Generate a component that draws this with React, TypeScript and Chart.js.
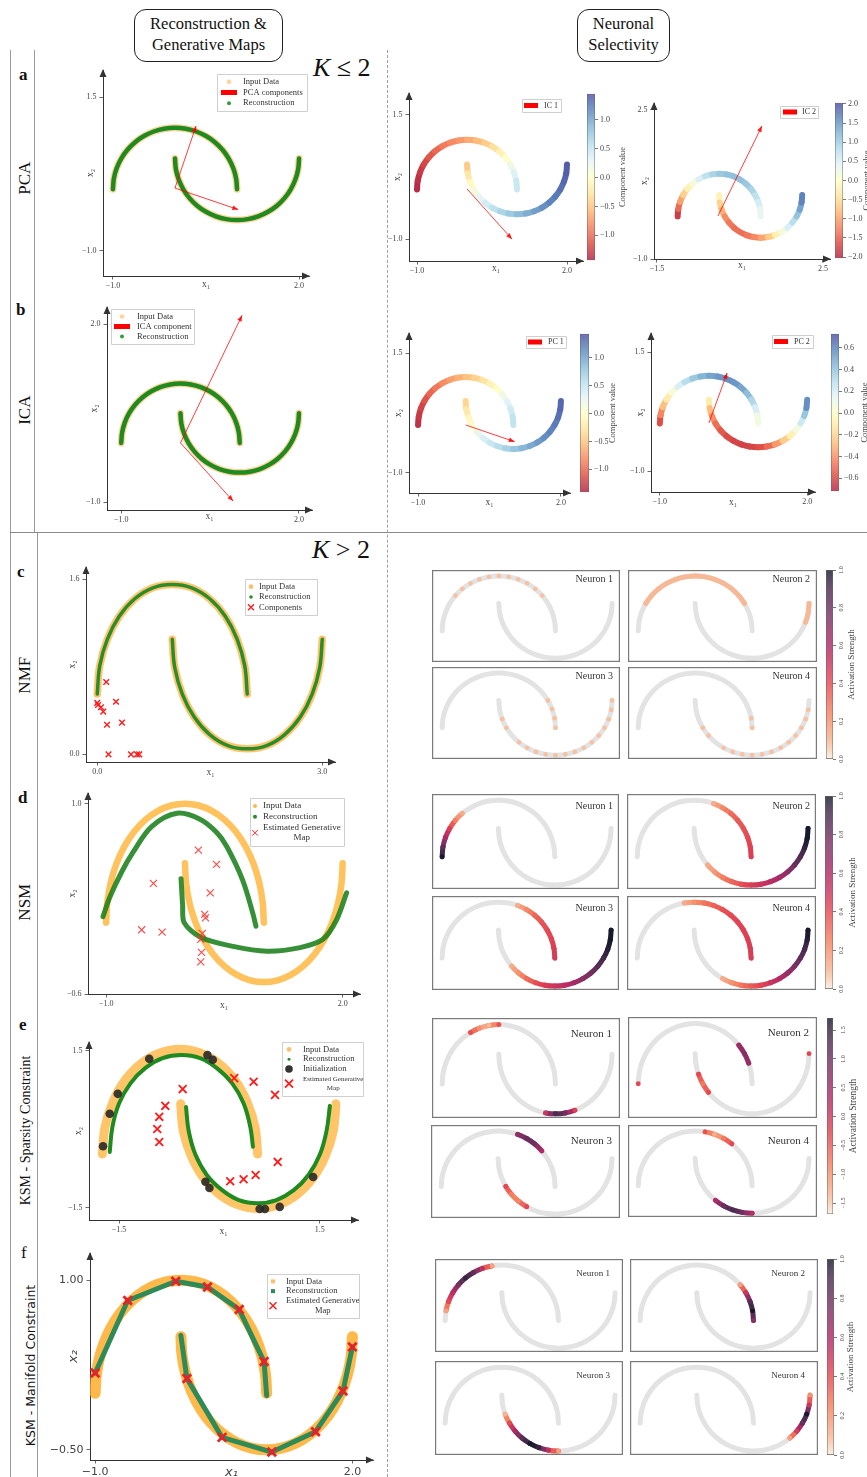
import React, { useEffect, useRef } from "react";
import { Chart, registerables } from "chart.js";

Chart.register(...registerables);

const SERIF = '"Liberation Serif", "Times New Roman", serif';
const SANS = '"DejaVu Sans", sans-serif';
const _ = null;

type P = [number, number];
type V = (number | null)[];

// ================= DATA =================
// two-moons shape (read off panels a / b), left end -> right end
const MOON_UPPER: P[] = [[-1, 0], [-0.985, 0.174], [-0.94, 0.342], [-0.866, 0.5], [-0.766, 0.643], [-0.643, 0.766], [-0.5, 0.866], [-0.342, 0.94], [-0.174, 0.985], [0, 1], [0.174, 0.985], [0.342, 0.94], [0.5, 0.866], [0.643, 0.766], [0.766, 0.643], [0.866, 0.5], [0.94, 0.342], [0.985, 0.174], [1, 0]];
const MOON_LOWER: P[] = [[0, 0.5], [0.015, 0.326], [0.06, 0.158], [0.134, 0], [0.234, -0.143], [0.357, -0.266], [0.5, -0.366], [0.658, -0.44], [0.826, -0.485], [1, -0.5], [1.174, -0.485], [1.342, -0.44], [1.5, -0.366], [1.643, -0.266], [1.766, -0.143], [1.866, 0], [1.94, 0.158], [1.985, 0.326], [2, 0.5]];

// panel a / b arrows
const PCA_ARROW_1: P[] = [[0, 0.02], [0.34, 1.03]];
const PCA_ARROW_2: P[] = [[0, 0.02], [1.02, -0.33]];
const ICA_ARROW_1: P[] = [[0, 0], [1.04, 2.15]];
const ICA_ARROW_2: P[] = [[0, 0], [0.89, -0.98]];
const IC1_ARROW: P[] = [[0, 0.01], [0.9, -1.0]];
const IC2_ARROW: P[] = [[-0.03, 0.01], [1.03, 2.12]];
const PC1_ARROW: P[] = [[0, 0], [1.03, -0.35]];
const PC2_ARROW: P[] = [[0, 0.01], [0.37, 1.06]];

// component values along the moons
const IC1_UPPER: V = [-1.42, -1.38, -1.32, -1.25, -1.15, -1.05, -0.95, -0.85, -0.78, -0.7, -0.6, -0.5, -0.38, -0.22, -0.05, 0.12, 0.28, 0.42, 0.52];
const IC1_LOWER: V = [-0.55, -0.35, -0.15, 0.05, 0.2, 0.35, 0.48, 0.6, 0.7, 0.8, 0.9, 1.0, 1.08, 1.16, 1.22, 1.28, 1.33, 1.38, 1.42];
const IC2_UPPER: V = [-2.0, -1.6, -1.2, -0.8, -0.4, 0.0, 0.35, 0.65, 0.85, 1.0, 1.1, 1.15, 1.15, 1.1, 1.0, 0.85, 0.65, 0.45, 0.25];
const IC2_LOWER: V = [0.0, -0.4, -0.75, -1.05, -1.25, -1.35, -1.4, -1.35, -1.25, -1.1, -0.85, -0.45, 0.0, 0.35, 0.65, 0.95, 1.25, 1.55, 1.8];
const PC1_UPPER: V = [-1.35, -1.3, -1.25, -1.15, -1.05, -0.95, -0.85, -0.75, -0.65, -0.55, -0.45, -0.35, -0.2, -0.05, 0.1, 0.25, 0.38, 0.48, 0.55];
const PC1_LOWER: V = [-0.45, -0.3, -0.15, 0.0, 0.15, 0.3, 0.42, 0.52, 0.62, 0.72, 0.82, 0.92, 1.0, 1.08, 1.15, 1.2, 1.25, 1.3, 1.35];
const PC2_UPPER: V = [-0.65, -0.5, -0.35, -0.18, -0.02, 0.12, 0.24, 0.34, 0.42, 0.48, 0.53, 0.56, 0.56, 0.53, 0.47, 0.38, 0.26, 0.13, 0.02];
const PC2_LOWER: V = [0.0, -0.2, -0.35, -0.45, -0.52, -0.57, -0.6, -0.62, -0.62, -0.6, -0.55, -0.45, -0.3, -0.15, 0.0, 0.15, 0.3, 0.48, 0.65];

// panel c (NMF)
const NMF_UPPER: P[] = [[0, 0.55], [0.034, 0.81], [0.134, 1.05], [0.293, 1.26], [0.5, 1.42], [0.741, 1.52], [1, 1.55], [1.259, 1.52], [1.5, 1.42], [1.707, 1.26], [1.866, 1.05], [1.966, 0.81], [2, 0.55]];
const NMF_LOWER: P[] = [[1, 1.05], [1.034, 0.79], [1.134, 0.55], [1.293, 0.34], [1.5, 0.18], [1.741, 0.08], [2, 0.05], [2.259, 0.08], [2.5, 0.18], [2.707, 0.34], [2.866, 0.55], [2.966, 0.79], [3, 1.05]];
const NMF_COMPONENTS: P[] = [[0.12, 0.66], [0.0, 0.47], [0.01, 0.45], [0.05, 0.43], [0.08, 0.39], [0.25, 0.48], [0.13, 0.27], [0.33, 0.29], [0.15, 0.0], [0.45, 0.0], [0.53, 0.0], [0.56, 0.0]];

// panel d (NSM)
const NSM_RECON_UPPER: P[] = [[-1.04, 0.05], [-0.95, 0.22], [-0.8, 0.43], [-0.66, 0.59], [-0.42, 0.81], [-0.1, 0.92], [0.19, 0.87], [0.4, 0.76], [0.53, 0.64], [0.73, 0.36], [0.86, 0.08], [0.9, -0.03]];
const NSM_RECON_LOWER: P[] = [[-0.05, 0.37], [-0.03, 0.15], [-0.01, 0.0], [0.19, -0.12], [0.61, -0.2], [1.04, -0.24], [1.46, -0.21], [1.75, -0.14], [1.92, 0.02], [2.05, 0.25]];
const NSM_MAP: P[] = [[0.17, 0.61], [0.4, 0.49], [-0.4, 0.33], [0.32, 0.25], [0.25, 0.07], [0.26, 0.04], [-0.55, -0.06], [-0.29, -0.08], [0.22, -0.09], [0.2, -0.14], [0.21, -0.25], [0.2, -0.33]];

// panel e (KSM - sparsity)
const KS_INPUT_UPPER: P[] = [[-1.75, -0.47], [-1.71, 0.05], [-1.59, 0.53], [-1.41, 0.94], [-1.17, 1.26], [-0.89, 1.46], [-0.59, 1.53], [-0.29, 1.46], [-0.01, 1.26], [0.23, 0.94], [0.41, 0.53], [0.53, 0.05], [0.57, -0.47]];
const KS_INPUT_LOWER: P[] = [[-0.58, 0.49], [-0.54, -0.03], [-0.42, -0.51], [-0.24, -0.92], [0, -1.24], [0.28, -1.44], [0.58, -1.51], [0.88, -1.44], [1.16, -1.24], [1.4, -0.92], [1.58, -0.51], [1.7, -0.03], [1.74, 0.49]];
const KS_RECON_UPPER: P[] = [[-1.64, -0.43], [-1.6, 0.05], [-1.5, 0.5], [-1.33, 0.88], [-1.11, 1.17], [-0.85, 1.36], [-0.57, 1.42], [-0.29, 1.36], [-0.04, 1.17], [0.19, 0.88], [0.36, 0.5], [0.46, 0.05], [0.5, -0.33]];
const KS_RECON_LOWER: P[] = [[-0.5, 0.43], [-0.46, -0.03], [-0.36, -0.48], [-0.19, -0.87], [0.04, -1.16], [0.29, -1.35], [0.57, -1.41], [0.85, -1.35], [1.11, -1.16], [1.33, -0.87], [1.5, -0.48], [1.6, -0.03], [1.65, 0.45]];
const KS_INIT: P[] = [[-1.74, -0.32], [-1.64, 0.3], [-1.52, 0.68], [-1.05, 1.35], [-0.18, 1.42], [-0.1, 1.33], [-0.21, -1.0], [-0.15, -1.12], [0.6, -1.52], [0.68, -1.52], [0.9, -1.48], [1.4, -0.91]];
const KS_MAP: P[] = [[-0.55, 0.77], [-0.81, 0.45], [-0.9, 0.24], [-0.93, 0.01], [-0.9, -0.24], [0.22, 0.98], [0.51, 0.91], [0.83, 0.66], [0.87, -0.62], [0.54, -0.87], [0.36, -0.95], [0.16, -0.99]];

// panel f (KSM - manifold)
const KM_RECON_UPPER: P[] = [[-1.0, 0.18], [-0.62, 0.82], [-0.06, 0.99], [0.31, 0.94], [0.68, 0.74], [0.97, 0.28], [1.0, -0.02]];
const KM_RECON_LOWER: P[] = [[0.0, 0.51], [0.07, 0.13], [0.48, -0.39], [1.06, -0.52], [1.57, -0.34], [1.89, 0.02], [2.0, 0.41]];
const KM_MAP: P[] = [[-1.0, 0.18], [-0.62, 0.82], [-0.06, 0.99], [0.31, 0.94], [0.68, 0.74], [0.97, 0.28], [0.07, 0.13], [0.48, -0.39], [1.06, -0.52], [1.57, -0.34], [1.89, 0.02], [2.0, 0.41]];

// neuron activations along the moons (null = inactive)
const NMF_N1_UPPER: V = [_, _, _, _, .07, .07, .07, .07, .07, .07, .07, .07, .07, .07, .07, _, _, _, _];
const NMF_N1_LOWER: V = [_, _, _, _, _, _, _, _, _, _, _, _, _, _, _, _, _, _, _];
const NMF_N2_UPPER: V = [_, _, _, .09, .09, .09, .09, .09, .09, .09, .09, .09, .09, .09, .09, .09, _, _, _];
const NMF_N2_LOWER: V = [_, _, _, _, _, _, _, _, _, _, _, _, _, _, _, _, .09, .09, .09];
const NMF_N3_UPPER: V = [_, _, _, _, _, _, _, _, _, _, _, _, _, _, _, .07, .07, .07, .07];
const NMF_N3_LOWER: V = [_, _, .07, .07, _, .07, .07, .07, .07, .07, .07, .07, .07, .07, .07, .07, .07, .07, .07];
const NMF_N4_UPPER: V = [_, _, _, _, _, _, _, _, _, _, _, _, _, _, _, _, _, .07, .07];
const NMF_N4_LOWER: V = [_, _, _, .07, .07, _, .07, .07, .07, .07, .07, .07, .07, .07, .07, .07, .07, .07, _];

const NSM_N1_UPPER: V = [1.0, .85, .6, .45, .25, .12, _, _, _, _, _, _, _, _, _, _, _, _, _];
const NSM_N1_LOWER: V = [_, _, _, _, _, _, _, _, _, _, _, _, _, _, _, _, _, _, _];
const NSM_N2_UPPER: V = [_, _, _, _, _, _, _, _, _, _, _, .12, .22, .3, .35, .38, .4, .43, .45];
const NSM_N2_LOWER: V = [_, _, _, _, .12, .18, .25, .32, .38, .45, .5, .55, .62, .7, .8, .88, .95, 1, 1];
const NSM_N3_UPPER: V = [_, _, _, _, _, _, _, _, _, _, _, .12, .22, .32, .37, .4, .42, .45, .47];
const NSM_N3_LOWER: V = [_, _, _, _, .12, .2, .3, .38, .45, .5, .55, .62, .7, .78, .85, .92, .97, 1, 1];
const NSM_N4_UPPER: V = [_, _, _, _, _, _, _, _, .12, .2, .28, .33, .38, .4, .42, .43, .44, .45, .46];
const NSM_N4_LOWER: V = [_, _, _, _, _, _, .12, .2, .28, .35, .42, .5, .58, .66, .75, .83, .9, .97, 1];

const KSS_N1_UPPER: V = [_, _, _, _, _, _, -.4, -1.0, -1.4, -.4, _, _, _, _, _, _, _, _, _];
const KSS_N1_LOWER: V = [_, _, _, _, _, _, _, _, 0, 1.4, 1.0, -.2, _, _, _, _, _, _, _];
const KSS_N2_UPPER: V = [-.3, _, _, _, _, _, _, _, _, _, _, _, _, _, .5, .8, .5, _, _];
const KSS_N2_LOWER: V = [_, _, -.3, -.8, -.3, _, _, _, _, _, _, _, _, _, _, _, _, _, -.3];
const KSS_N3_UPPER: V = [_, _, _, _, _, _, _, _, _, _, _, .6, 1.1, 1.0, .3, _, _, _, _];
const KSS_N3_LOWER: V = [_, _, _, -.3, -.8, -.9, -.3, _, _, _, _, _, _, _, _, _, _, _, _];
const KSS_N4_UPPER: V = [_, _, _, _, _, _, _, _, _, _, -.4, -1.3, -.8, -.3, _, _, _, _, _];
const KSS_N4_LOWER: V = [_, _, _, _, _, .3, 1.0, 1.4, 1.0, .2, _, _, _, _, _, _, _, _, _];

const KSM_N1_UPPER: V = [_, .15, .4, .55, .75, .95, .85, .55, .15, _, _, _, _, _, _, _, _, _, _];
const KSM_N1_LOWER: V = [_, _, _, _, _, _, _, _, _, _, _, _, _, _, _, _, _, _, _];
const KSM_N2_UPPER: V = [_, _, _, _, _, _, _, _, _, _, _, _, _, _, .15, .5, .85, 1, .7];
const KSM_N2_LOWER: V = [_, _, _, _, _, _, _, _, _, _, _, _, _, _, _, _, _, _, _];
const KSM_N3_UPPER: V = [_, _, _, _, _, _, _, _, _, _, _, _, _, _, _, _, _, _, _];
const KSM_N3_LOWER: V = [_, _, .1, .4, .6, .85, 1, .95, .55, .15, _, _, _, _, _, _, _, _, _];
const KSM_N4_UPPER: V = [_, _, _, _, _, _, _, _, _, _, _, _, _, _, _, _, _, _, _];
const KSM_N4_LOWER: V = [_, _, _, _, _, _, _, _, _, _, _, _, _, .15, .45, .8, 1, .5, .2];

// tick values
const A_L_XT = [-1, 2], A_L_YT = [-1, 1.5];
const A_R1_XT = [-1, 2], A_R1_YT = [-1, 1.5];
const A_R2_XT = [-1.5, 2.5], A_R2_YT = [-1, 2.5];
const B_L_XT = [-1, 2], B_L_YT = [-1, 2];
const B_R_XT = [-1, 2], B_R_YT = [-1, 1.5];
const C_L_XT = [0, 3], C_L_YT = [0, 1.6];
const D_L_XT = [-1, 2], D_L_YT = [-0.6, 1.0];
const E_L_XT = [-1.5, 1.5], E_L_YT = [-1.5, 1.5];
const F_L_XT = [-1, 2], F_L_YT = [-0.5, 1.0];
const CB_IC_TICKS = [-1, -0.5, 0, 0.5, 1];
const CB_IC2_TICKS = [-2, -1.5, -1, -0.5, 0, 0.5, 1, 1.5, 2];
const CB_PC2_TICKS = [-0.6, -0.4, -0.2, 0, 0.2, 0.4, 0.6];
const CB_ACT_TICKS = [0, 0.2, 0.4, 0.6, 0.8, 1.0];
const CB_KSS_TICKS = [-1.5, -1, -0.5, 0, 0.5, 1, 1.5];

// ================= STYLE HELPERS =================
function hexRgb(h: string) { return [1, 3, 5].map((i) => parseInt(h.slice(i, i + 2), 16)); }
function makeCmap(stops: [number, string][], alpha: number) {
  const s = stops.map(([p, c]) => ({ p, c: hexRgb(c) }));
  return (t: number) => {
    const u = Math.max(0, Math.min(1, t));
    let k = 0;
    while (k < s.length - 2 && u > s[k + 1].p) k++;
    const a = s[k], b = s[k + 1];
    const f = b.p > a.p ? Math.max(0, Math.min(1, (u - a.p) / (b.p - a.p))) : 0;
    const c = a.c.map((v, i) => Math.round((v + (b.c[i] - v) * f) * alpha + 255 * (1 - alpha)));
    return `rgb(${c[0]},${c[1]},${c[2]})`;
  };
}
const RDYLBU_COLS = ['#a50026', '#d73027', '#f46d43', '#fdae61', '#fee090', '#ffffbf', '#e0f3f8', '#abd9e9', '#74add1', '#4575b4', '#313695'];
const RDYLBU_STOPS: [number, string][] = RDYLBU_COLS.map((c, i) => [i / (RDYLBU_COLS.length - 1), c]);
const ROCKET_R_STOPS: [number, string][] = [[0, '#faebdd'], [0.083, '#f6b48f'], [0.25, '#f37651'], [0.417, '#e13342'], [0.583, '#ad1759'], [0.75, '#701f57'], [0.917, '#35193e'], [1, '#03051a']];
const rdylbuData = makeCmap(RDYLBU_STOPS, 0.85);
const rdylbuBar = makeCmap(RDYLBU_STOPS, 0.72);
const rocketData = makeCmap(ROCKET_R_STOPS, 0.92);
const rocketBar = makeCmap(ROCKET_R_STOPS, 0.75);
const normed = (cm: (t: number) => string, lo: number, hi: number) => (v: number) => cm((v - lo) / (hi - lo));

const pts = (a: P[]) => a.map(([x, y]) => ({ x, y }));
const lineDs = (a: P[], color: string, width: number, tension = 0.4) => ({
  data: pts(a), showLine: true, borderColor: color, backgroundColor: color, borderWidth: width, pointRadius: 0,
  tension, borderCapStyle: 'round', borderJoinStyle: 'round', fill: false,
});
const markDs = (a: P[], style: string, r: number, color: string, bw: number) => ({
  data: pts(a), showLine: false, pointStyle: style, pointRadius: r, borderColor: color, backgroundColor: color,
  pointBorderWidth: bw, borderWidth: bw,
});
const arrowDs = (a: P[]) => ({
  data: pts(a), showLine: true, borderColor: 'rgba(255,0,0,0.85)', borderWidth: 0.9, pointRadius: 0, tension: 0, arrowHead: true,
});
const colorDs = (a: P[], vals: V, cm: (v: number) => string, width: number, r: number, showLine = true) => ({
  data: pts(a), showLine, borderWidth: width, borderColor: 'rgba(0,0,0,0)', tension: 0.4,
  borderCapStyle: 'round', borderJoinStyle: 'round', fill: false, pointBorderWidth: 0,
  pointRadius: (c: any) => (vals[c.dataIndex] == null ? 0 : r),
  pointBackgroundColor: (c: any) => (vals[c.dataIndex] == null ? 'rgba(0,0,0,0)' : cm(vals[c.dataIndex] as number)),
  segment: {
    borderColor: (c: any) => {
      const p = vals[c.p0DataIndex], q = vals[c.p1DataIndex];
      return p == null || q == null ? 'rgba(0,0,0,0)' : cm(((p as number) + (q as number)) / 2);
    },
  },
});

type Txt = { t: string; x: number; y: number; font: string; color?: string; align?: string; rot?: number };
type LegItem = { label: string[]; marker: string; color: string; size?: number; lw?: number; font?: string };
type Leg = { box: [number, number, number, number]; mx: number; tx: number; font: string; items: LegItem[]; pad?: number };
type Decor = { ox: number; oy: number; axisArrows?: boolean; frame?: string; texts?: Txt[]; legend?: Leg };

function drawMarker(ctx: any, it: LegItem, x: number, y: number) {
  ctx.save();
  ctx.fillStyle = it.color; ctx.strokeStyle = it.color;
  const s = it.size ?? 2.2;
  if (it.marker === 'dot') { ctx.beginPath(); ctx.arc(x, y, s, 0, Math.PI * 2); ctx.fill(); }
  else if (it.marker === 'rect') { ctx.fillRect(x - s / 2, y - 2.5, s, 5); }
  else if (it.marker === 'square') { ctx.fillRect(x - s / 2, y - s / 2, s, s); }
  else if (it.marker === 'cross') {
    ctx.lineWidth = it.lw ?? 1.3; ctx.beginPath();
    ctx.moveTo(x - s, y - s); ctx.lineTo(x + s, y + s); ctx.moveTo(x + s, y - s); ctx.lineTo(x - s, y + s); ctx.stroke();
  }
  ctx.restore();
}
function drawLegend(ctx: any, L: Leg, ox: number, oy: number) {
  const x0 = L.box[0] - ox, y0 = L.box[1] - oy, x1 = L.box[2] - ox, y1 = L.box[3] - oy;
  ctx.save();
  ctx.fillStyle = 'rgba(255,255,255,0.85)'; ctx.strokeStyle = '#cfcfcf'; ctx.lineWidth = 1;
  ctx.beginPath(); ctx.rect(x0 + 0.5, y0 + 0.5, x1 - x0, y1 - y0); ctx.fill(); ctx.stroke();
  const pad = L.pad ?? 2.5;
  const n = L.items.reduce((s, it) => s + it.label.length, 0);
  const lh = (y1 - y0 - 2 * pad) / n;
  let y = y0 + pad;
  for (const it of L.items) {
    const h = lh * it.label.length;
    drawMarker(ctx, it, x0 + L.mx, y + h / 2);
    ctx.font = it.font ?? L.font; ctx.fillStyle = '#333'; ctx.textBaseline = 'middle';
    const w0 = ctx.measureText(it.label[0]).width;
    it.label.forEach((s, k) => {
      const ly = y + lh * (k + 0.5);
      if (k === 0) { ctx.textAlign = 'left'; ctx.fillText(s, x0 + L.tx, ly); }
      else { ctx.textAlign = 'center'; ctx.fillText(s, x0 + L.tx + w0 / 2, ly); }
    });
    y += h;
  }
  ctx.restore();
}
function decorPlugin(d: Decor) {
  return {
    id: 'decor',
    afterDatasetsDraw(chart: any) {
      const ctx = chart.ctx;
      chart.data.datasets.forEach((ds: any, i: number) => {
        if (!ds.arrowHead) return;
        const el = chart.getDatasetMeta(i).data;
        if (el.length < 2) return;
        const a = el[el.length - 2], b = el[el.length - 1];
        const ang = Math.atan2(b.y - a.y, b.x - a.x);
        const Lh = 6, W = 2.4;
        ctx.save(); ctx.fillStyle = ds.borderColor; ctx.beginPath();
        ctx.moveTo(b.x, b.y);
        ctx.lineTo(b.x - Lh * Math.cos(ang) + W * Math.sin(ang), b.y - Lh * Math.sin(ang) - W * Math.cos(ang));
        ctx.lineTo(b.x - Lh * Math.cos(ang) - W * Math.sin(ang), b.y - Lh * Math.sin(ang) + W * Math.cos(ang));
        ctx.closePath(); ctx.fill(); ctx.restore();
      });
    },
    afterDraw(chart: any) {
      const ctx = chart.ctx; const ca = chart.chartArea;
      ctx.save();
      if (d.axisArrows) {
        ctx.fillStyle = '#333';
        ctx.beginPath(); ctx.moveTo(ca.left, ca.top - 1); ctx.lineTo(ca.left - 3.5, ca.top + 7); ctx.lineTo(ca.left + 3.5, ca.top + 7); ctx.closePath(); ctx.fill();
        ctx.beginPath(); ctx.moveTo(ca.right + 1, ca.bottom); ctx.lineTo(ca.right - 7, ca.bottom - 3.5); ctx.lineTo(ca.right - 7, ca.bottom + 3.5); ctx.closePath(); ctx.fill();
      }
      if (d.frame) { ctx.strokeStyle = d.frame; ctx.lineWidth = 1.2; ctx.strokeRect(0.6, 0.6, chart.width - 1.2, chart.height - 1.2); }
      if (d.legend) drawLegend(ctx, d.legend, d.ox, d.oy);
      (d.texts || []).forEach((t) => {
        ctx.save();
        ctx.font = t.font; ctx.fillStyle = t.color ?? '#333'; ctx.textAlign = t.align ?? 'center'; ctx.textBaseline = 'middle';
        ctx.translate(t.x - d.ox, t.y - d.oy);
        if (t.rot) ctx.rotate(t.rot);
        ctx.fillText(t.t, 0, 0);
        ctx.restore();
      });
      ctx.restore();
    },
  };
}

type Spec = { key: string; left: number; top: number; width: number; height: number; config: any };
const fmtNum = (v: number, dec: number) => v.toFixed(dec).replace('-', '\u2212');

type AxOpts = {
  key: string; rect: [number, number, number, number]; x: [number, number]; y: [number, number];
  xt: number[]; yt: number[]; xdec?: number; ydec?: number; tickFont?: any; titleFont?: any;
  xTitleDy: number; yTitleDx: number; datasets: any[]; legend?: Leg;
};
function axesSpec(o: AxOpts): Spec {
  const yW = 44, xH = 28, padL = 4, padT = 10, padR = 12;
  const [L, T, R, B] = o.rect;
  const left = L - yW - padL, top = T - padT;
  const width = R - L + yW + padL + padR, height = B - T + padT + xH;
  const tf = o.tickFont ?? { family: SERIF, size: 8 };
  const ttf = o.titleFont ?? { family: SERIF, size: 9.5 };
  const lh = ttf.size * 1.2;
  const grid = () => ({ display: true, drawOnChartArea: false, drawTicks: true, tickLength: 3.5, color: '#444', lineWidth: 0.8 });
  const border = () => ({ display: true, color: '#333', width: 1 });
  const config = {
    type: 'scatter',
    data: { datasets: o.datasets.slice().reverse() },
    options: {
      animation: false, responsive: false, events: [],
      layout: { padding: { left: padL, top: padT, right: padR, bottom: 0 }, autoPadding: false },
      plugins: { legend: { display: false }, tooltip: { enabled: false }, title: { display: false } },
      scales: {
        x: {
          type: 'linear', min: o.x[0], max: o.x[1], grid: grid(), border: border(),
          afterBuildTicks: (s: any) => { s.ticks = o.xt.map((v) => ({ value: v })); },
          afterFit: (s: any) => { s.height = xH; },
          ticks: { font: tf, color: '#444', padding: 2, maxRotation: 0, minRotation: 0, autoSkip: false, callback: (v: any) => fmtNum(+v, o.xdec ?? 1) },
          title: { display: true, text: 'x\u2081', font: ttf, color: '#444', padding: { top: 0, bottom: xH - o.xTitleDy - lh / 2 } },
        },
        y: {
          type: 'linear', min: o.y[0], max: o.y[1], grid: grid(), border: border(),
          afterBuildTicks: (s: any) => { s.ticks = o.yt.map((v) => ({ value: v })); },
          afterFit: (s: any) => { s.width = yW; },
          ticks: { font: tf, color: '#444', padding: 3, autoSkip: false, callback: (v: any) => fmtNum(+v, o.ydec ?? 1) },
          title: { display: true, text: 'x\u2082', font: ttf, color: '#444', padding: { top: yW - o.yTitleDx - lh / 2, bottom: 0 } },
        },
      },
    },
    plugins: [decorPlugin({ ox: left, oy: top, axisArrows: true, legend: o.legend })],
  };
  return { key: o.key, left, top, width, height, config };
}

function neuronSpec(key: string, rect: number[], title: string, tdx: number, tdy: number, tsize: number, up: V, lo: V, cm: (v: number) => string, dots = false): Spec {
  const [L, T, R, B] = rect;
  const gray = '#e3e3e3';
  const ds = [
    lineDs(MOON_UPPER, gray, 5), lineDs(MOON_LOWER, gray, 5),
    colorDs(MOON_UPPER, up, cm, 5, dots ? 2.4 : 2.4, !dots), colorDs(MOON_LOWER, lo, cm, 5, dots ? 2.4 : 2.4, !dots),
  ];
  const config = {
    type: 'scatter',
    data: { datasets: ds.slice().reverse() },
    options: {
      animation: false, responsive: false, events: [],
      layout: { padding: 0, autoPadding: false },
      plugins: { legend: { display: false }, tooltip: { enabled: false } },
      scales: { x: { type: 'linear', display: false, min: -1.18, max: 2.14 }, y: { type: 'linear', display: false, min: -0.57, max: 1.11 } },
    },
    plugins: [decorPlugin({ ox: L, oy: T, frame: '#7a7a7a', texts: [{ t: title, x: R - tdx, y: T + tdy, font: `${tsize}px ${SERIF}`, align: 'right', color: '#333' }] })],
  };
  return { key, left: L, top: T, width: R - L, height: B - T, config };
}

function cbarSpec(key: string, bar: number[], range: [number, number], ticks: number[], dec: number, cm: (t: number) => string, title: string, titleDx: number, rot: boolean, titleSize: number): Spec {
  const [x0, y0, x1, y1] = bar;
  const axW = titleDx + 9, padT = 6;
  const left = x0, top = y0 - padT, width = x1 - x0 + axW, height = y1 - y0 + 2 * padT;
  const [mn, mx] = range;
  const config = {
    type: 'bar',
    data: {
      labels: [''],
      datasets: [{
        data: [[mn, mx]], borderColor: '#666', borderWidth: 0.8, borderSkipped: false, barPercentage: 1, categoryPercentage: 1,
        backgroundColor: (c: any) => {
          const ch = c.chart; const ys = ch.scales && ch.scales.y;
          if (!ys || !ch.chartArea) return '#ccc';
          const g = ch.ctx.createLinearGradient(0, ys.getPixelForValue(mn), 0, ys.getPixelForValue(mx));
          for (let k = 0; k <= 20; k++) g.addColorStop(k / 20, cm(k / 20));
          return g;
        },
      }],
    },
    options: {
      animation: false, responsive: false, events: [],
      layout: { padding: { top: padT, bottom: padT, left: 0, right: 0 }, autoPadding: false },
      plugins: { legend: { display: false }, tooltip: { enabled: false } },
      scales: {
        x: { display: false },
        y: {
          position: 'right', type: 'linear', min: mn, max: mx,
          afterBuildTicks: (s: any) => { s.ticks = ticks.map((v) => ({ value: v })); },
          afterFit: (s: any) => { s.width = axW; },
          grid: { display: true, drawOnChartArea: false, drawTicks: true, tickLength: 3, color: '#555', lineWidth: 0.8 },
          border: { display: false },
          ticks: {
            font: { family: SERIF, size: rot ? 6 : 8 }, color: '#444', padding: 2, autoSkip: false,
            minRotation: rot ? 90 : 0, maxRotation: rot ? 90 : 0, crossAlign: rot ? 'center' : 'near',
            callback: (v: any) => fmtNum(+v, dec),
          },
        },
      },
    },
    plugins: [decorPlugin({ ox: left, oy: top, texts: [{ t: title, x: x1 + titleDx, y: (y0 + y1) / 2, font: `${titleSize}px ${SERIF}`, rot: -Math.PI / 2, color: '#444' }] })],
  };
  return { key, left, top, width, height, config };
}

// ================= BUILD ALL CHARTS =================
const ORANGE_LIGHT = '#fdd49c';
const REC_GREEN = '#1f8a1f';
const RED = '#ff1a1a';

function buildSpecs(): Spec[] {
  const S: Spec[] = [];
  const legPCA = (box: [number, number, number, number], mx: number, tx: number, comp: string): Leg => ({
    box, mx, tx, font: `8.5px ${SERIF}`,
    items: [
      { label: ['Input Data'], marker: 'dot', color: ORANGE_LIGHT, size: 2.3 },
      { label: [comp], marker: 'rect', color: '#ff0000', size: 16 },
      { label: ['Reconstruction'], marker: 'dot', color: '#3a9a3a', size: 2 },
    ],
  });
  const small = (box: [number, number, number, number], mx: number, tx: number, lab: string): Leg => ({
    box, mx, tx, font: `8px ${SERIF}`, pad: 1, items: [{ label: [lab], marker: 'rect', color: '#ff0000', size: 14 }],
  });

  // ---- a ----
  S.push(axesSpec({
    key: 'aL', rect: [103, 70, 309, 276], x: [-1.16, 2.16], y: [-1.41, 1.94], xt: A_L_XT, yt: A_L_YT, xTitleDy: 8, yTitleDx: 13,
    datasets: [lineDs(MOON_UPPER, ORANGE_LIGHT, 7), lineDs(MOON_LOWER, ORANGE_LIGHT, 7), lineDs(MOON_UPPER, REC_GREEN, 4.5), lineDs(MOON_LOWER, REC_GREEN, 4.5), arrowDs(PCA_ARROW_1), arrowDs(PCA_ARROW_2)],
    legend: legPCA([217, 74, 307, 111], 12, 26, 'PCA components'),
  }));
  const ic1 = normed(rdylbuData, -1.43, 1.45), ic2 = normed(rdylbuData, -2.03, 2.03);
  S.push(axesSpec({
    key: 'aR1', rect: [409, 93, 583, 261], x: [-1.16, 2.32], y: [-1.44, 1.94], xt: A_R1_XT, yt: A_R1_YT, xTitleDy: 7, yTitleDx: 12,
    datasets: [colorDs(MOON_UPPER, IC1_UPPER, ic1, 6, 0), colorDs(MOON_LOWER, IC1_LOWER, ic1, 6, 0), arrowDs(IC1_ARROW)],
    legend: small([522, 99, 561, 112], 9, 22, 'IC 1'),
  }));
  S.push(cbarSpec('cbA1', [587, 93, 595, 261], [-1.43, 1.45], CB_IC_TICKS, 1, rdylbuBar, 'Component value', 28, false, 8.5));
  S.push(axesSpec({
    key: 'aR2', rect: [654, 103, 830, 259], x: [-1.57, 2.67], y: [-1.0, 2.66], xt: A_R2_XT, yt: A_R2_YT, xTitleDy: 6, yTitleDx: 10,
    datasets: [colorDs(MOON_UPPER, IC2_UPPER, ic2, 6, 0), colorDs(MOON_LOWER, IC2_LOWER, ic2, 6, 0), arrowDs(IC2_ARROW)],
    legend: small([780, 106, 818, 118], 10, 22, 'IC 2'),
  }));
  S.push(cbarSpec('cbA2', [835, 102, 843, 259], [-2.03, 2.03], CB_IC2_TICKS, 1, rdylbuBar, 'Component value', 24, false, 8.5));

  // ---- b ----
  S.push(axesSpec({
    key: 'bL', rect: [107, 307, 312, 510], x: [-1.24, 2.22], y: [-1.13, 2.29], xt: B_L_XT, yt: B_L_YT, xTitleDy: 6, yTitleDx: 13,
    datasets: [lineDs(MOON_UPPER, ORANGE_LIGHT, 7), lineDs(MOON_LOWER, ORANGE_LIGHT, 7), lineDs(MOON_UPPER, REC_GREEN, 4.5), lineDs(MOON_LOWER, REC_GREEN, 4.5), arrowDs(ICA_ARROW_1), arrowDs(ICA_ARROW_2)],
    legend: legPCA([111, 309, 194, 344], 11, 26, 'ICA component'),
  }));
  const pc1 = normed(rdylbuData, -1.41, 1.43), pc2 = normed(rdylbuData, -0.72, 0.73);
  S.push(axesSpec({
    key: 'bR1', rect: [409, 333, 570, 493], x: [-1.19, 2.19], y: [-1.42, 1.92], xt: B_R_XT, yt: B_R_YT, xTitleDy: 9, yTitleDx: 11,
    datasets: [colorDs(MOON_UPPER, PC1_UPPER, pc1, 6, 0), colorDs(MOON_LOWER, PC1_LOWER, pc1, 6, 0), arrowDs(PC1_ARROW)],
    legend: small([526, 336, 566, 348], 9, 22, 'PC 1'),
  }));
  S.push(cbarSpec('cbB1', [580, 333, 589, 493], [-1.41, 1.43], CB_IC_TICKS, 1, rdylbuBar, 'Component value', 24, false, 8.5));
  S.push(axesSpec({
    key: 'bR2', rect: [651, 333, 815, 492], x: [-1.18, 2.16], y: [-1.44, 1.9], xt: B_R_XT, yt: B_R_YT, xTitleDy: 10, yTitleDx: 11,
    datasets: [colorDs(MOON_UPPER, PC2_UPPER, pc2, 6, 0), colorDs(MOON_LOWER, PC2_LOWER, pc2, 6, 0), arrowDs(PC2_ARROW)],
    legend: small([772, 335, 813, 348], 9, 22, 'PC 2'),
  }));
  S.push(cbarSpec('cbB2', [831, 333, 839, 492], [-0.72, 0.73], CB_PC2_TICKS, 1, rdylbuBar, 'Component value', 26, false, 8.5));

  // ---- c (NMF) ----
  const IN_ORANGE = 'rgba(255,176,60,0.75)';
  S.push(axesSpec({
    key: 'cL', rect: [86, 567, 335, 762], x: [-0.15, 3.17], y: [-0.07, 1.71], xt: C_L_XT, yt: C_L_YT, xTitleDy: 10, yTitleDx: 14,
    datasets: [lineDs(NMF_UPPER, IN_ORANGE, 7.5), lineDs(NMF_LOWER, IN_ORANGE, 7.5), lineDs(NMF_UPPER, '#2a8c2a', 3.5), lineDs(NMF_LOWER, '#2a8c2a', 3.5), markDs(NMF_COMPONENTS, 'crossRot', 4, RED, 1.4)],
    legend: {
      box: [245, 579, 317, 615], mx: 6, tx: 14, font: `8.5px ${SERIF}`,
      items: [
        { label: ['Input Data'], marker: 'dot', color: '#fdc06a', size: 2.3 },
        { label: ['Reconstruction'], marker: 'dot', color: '#2a8c2a', size: 1.8 },
        { label: ['Components'], marker: 'cross', color: RED, size: 3, lw: 1.3 },
      ],
    },
  }));
  const act = normed(rocketData, 0, 1);
  const CR = [[432, 570, 620, 662], [628, 570, 817, 662], [432, 667, 620, 759], [628, 667, 817, 759]];
  const cU = [NMF_N1_UPPER, NMF_N2_UPPER, NMF_N3_UPPER, NMF_N4_UPPER], cL = [NMF_N1_LOWER, NMF_N2_LOWER, NMF_N3_LOWER, NMF_N4_LOWER];
  CR.forEach((r, i) => S.push(neuronSpec(`c${i}`, r, `Neuron ${i + 1}`, 7, 9, 10, cU[i], cL[i], act, i !== 1)));
  S.push(cbarSpec('cbC', [826, 570, 833, 759], [0, 1], CB_ACT_TICKS, 1, rocketBar, 'Activation Strength', 19, true, 9));

  // ---- d (NSM) ----
  S.push(axesSpec({
    key: 'dL', rect: [88, 793, 360, 994], x: [-1.23, 2.22], y: [-0.6, 1.09], xt: D_L_XT, yt: D_L_YT, xTitleDy: 11, yTitleDx: 16,
    datasets: [lineDs(MOON_UPPER, 'rgba(255,170,30,0.72)', 6.5), lineDs(MOON_LOWER, 'rgba(255,170,30,0.72)', 6.5), lineDs(NSM_RECON_UPPER, 'rgba(20,125,20,0.85)', 5, 0.35), lineDs(NSM_RECON_LOWER, 'rgba(20,125,20,0.85)', 5, 0.3), markDs(NSM_MAP, 'crossRot', 5, 'rgba(255,50,50,0.9)', 1.1)],
    legend: {
      box: [250, 798, 344, 846], mx: 5, tx: 13, font: `9px ${SERIF}`,
      items: [
        { label: ['Input Data'], marker: 'dot', color: '#fdb84a', size: 2 },
        { label: ['Reconstruction'], marker: 'dot', color: '#2a8c2a', size: 2 },
        { label: ['Estimated Generative', 'Map'], marker: 'cross', color: RED, size: 2.8, lw: 1 },
      ],
    },
  }));
  const DR = [[432, 794, 619, 889], [627, 794, 816, 889], [432, 896, 619, 990], [627, 896, 816, 990]];
  const dU = [NSM_N1_UPPER, NSM_N2_UPPER, NSM_N3_UPPER, NSM_N4_UPPER], dL = [NSM_N1_LOWER, NSM_N2_LOWER, NSM_N3_LOWER, NSM_N4_LOWER];
  DR.forEach((r, i) => S.push(neuronSpec(`d${i}`, r, `Neuron ${i + 1}`, 6, 12, 10, dU[i], dL[i], act)));
  S.push(cbarSpec('cbD', [825, 796, 833, 989], [0, 1], CB_ACT_TICKS, 1, rocketBar, 'Activation Strength', 20, true, 9));

  // ---- e (KSM - sparsity) ----
  S.push(axesSpec({
    key: 'eL', rect: [89, 1042, 358, 1220], x: [-1.95, 2.07], y: [-1.73, 1.67], xt: E_L_XT, yt: E_L_YT, xTitleDy: 11, yTitleDx: 11,
    datasets: [lineDs(KS_INPUT_UPPER, 'rgba(255,172,40,0.7)', 9), lineDs(KS_INPUT_LOWER, 'rgba(255,172,40,0.7)', 9), lineDs(KS_RECON_UPPER, '#1f8a1f', 4), lineDs(KS_RECON_LOWER, '#1f8a1f', 4), markDs(KS_INIT, 'circle', 4.3, 'rgba(40,40,40,0.9)', 0), markDs(KS_MAP, 'crossRot', 5.5, RED, 1.8)],
    legend: {
      box: [282, 1042, 363, 1096], mx: 7, tx: 21, font: `8.5px ${SERIF}`,
      items: [
        { label: ['Input Data'], marker: 'dot', color: '#fdc06a', size: 2.3 },
        { label: ['Reconstruction'], marker: 'dot', color: '#2a8c2a', size: 1.5 },
        { label: ['Initialization'], marker: 'dot', color: '#333', size: 3.8 },
        { label: ['Estimated Generative', 'Map'], marker: 'cross', color: RED, size: 4, lw: 1.8, font: `7px ${SERIF}` },
      ],
    },
  }));
  const kss = normed(rocketData, -1.69, 1.71);
  const ER = [[432, 1018, 620, 1118], [628, 1017, 817, 1118], [431, 1125, 620, 1218], [628, 1125, 817, 1217]];
  const eU = [KSS_N1_UPPER, KSS_N2_UPPER, KSS_N3_UPPER, KSS_N4_UPPER], eL = [KSS_N1_LOWER, KSS_N2_LOWER, KSS_N3_LOWER, KSS_N4_LOWER];
  ER.forEach((r, i) => S.push(neuronSpec(`e${i}`, r, `Neuron ${i + 1}`, 8, 16, 11, eU[i], eL[i], kss)));
  S.push(cbarSpec('cbE', [827, 1018, 833, 1214], [-1.69, 1.71], CB_KSS_TICKS, 1, rocketBar, 'Activation Strength', 20, true, 9.5));

  // ---- f (KSM - manifold) ----
  S.push(axesSpec({
    key: 'fL', rect: [90, 1253, 373, 1460], x: [-1.06, 2.24], y: [-0.59, 1.24], xt: F_L_XT, yt: F_L_YT, ydec: 2,
    tickFont: { family: SANS, size: 11 }, titleFont: { family: SANS, size: 13, style: 'italic' }, xTitleDy: 13, yTitleDx: 16,
    datasets: [lineDs(MOON_UPPER, 'rgba(255,168,30,0.8)', 11), lineDs(MOON_LOWER, 'rgba(255,168,30,0.8)', 11), lineDs(KM_RECON_UPPER, '#2e8b57', 5, 0), lineDs(KM_RECON_LOWER, '#2e8b57', 5, 0), markDs(KM_MAP, 'crossRot', 6, '#e8202a', 2.8)],
    legend: {
      box: [267, 1274, 359, 1318], mx: 6, tx: 19, font: `8.5px ${SERIF}`,
      items: [
        { label: ['Input Data'], marker: 'square', color: '#fdc06a', size: 4 },
        { label: ['Reconstruction'], marker: 'square', color: '#2e8b57', size: 4 },
        { label: ['Estimated Generative', 'Map'], marker: 'cross', color: RED, size: 3.5, lw: 1.4 },
      ],
    },
  }));
  const FR = [[435, 1259, 623, 1352], [630, 1259, 818, 1352], [435, 1361, 623, 1455], [630, 1361, 818, 1455]];
  const fU = [KSM_N1_UPPER, KSM_N2_UPPER, KSM_N3_UPPER, KSM_N4_UPPER], fL = [KSM_N1_LOWER, KSM_N2_LOWER, KSM_N3_LOWER, KSM_N4_LOWER];
  FR.forEach((r, i) => S.push(neuronSpec(`f${i}`, r, `Neuron ${i + 1}`, 13, 15, 9, fU[i], fL[i], act)));
  S.push(cbarSpec('cbF', [827, 1259, 834, 1455], [0, 1], CB_ACT_TICKS, 1, rocketBar, 'Activation Strength', 17, true, 9));
  return S;
}
const SPECS = buildSpecs();

function ChartCanvas({ spec }: { spec: Spec }) {
  const ref = useRef<HTMLCanvasElement>(null);
  useEffect(() => {
    const chart = new Chart(ref.current as HTMLCanvasElement, spec.config);
    return () => chart.destroy();
  }, [spec]);
  return (
    <canvas ref={ref} width={spec.width} height={spec.height}
      style={{ position: 'absolute', left: spec.left, top: spec.top, width: spec.width, height: spec.height }} />
  );
}

const abs = (s: React.CSSProperties): React.CSSProperties => ({ position: 'absolute', whiteSpace: 'nowrap', ...s });

function Rot({ cx, cy, size, font, text }: { cx: number; cy: number; size: number; font: string; text: string }) {
  return (
    <div style={abs({ left: cx - 150, top: cy - size * 0.6, width: 300, height: size * 1.2, lineHeight: `${size * 1.2}px`, textAlign: 'center', fontFamily: font, fontSize: size, color: '#111', transform: 'rotate(-90deg)' })}>{text}</div>
  );
}

export default function App() {
  const letter = (t: string, left: number, top: number, bold = true) => (
    <div key={t} style={abs({ left, top, fontFamily: SERIF, fontSize: 17, lineHeight: '17px', fontWeight: bold ? 700 : 400, color: '#111' })}>{t}</div>
  );
  return (
    <div style={{ position: 'absolute', left: 0, top: 0, width: 867, height: 1477, overflow: 'hidden', background: '#fff' }}>
      {/* frame lines */}
      <div style={abs({ left: 10, top: 50, width: 1, height: 1427, background: '#9a9a9a' })} />
      <div style={abs({ left: 34, top: 50, width: 1, height: 482, background: '#9a9a9a' })} />
      <div style={abs({ left: 37, top: 532, width: 1, height: 945, background: '#9a9a9a' })} />
      <div style={abs({ left: 10, top: 532, width: 857, height: 1, background: '#8a8a8a' })} />
      <div style={abs({ left: 387, top: 50, width: 0, height: 1427, borderLeft: '1px dashed #a0a0a0' })} />

      {/* column headers */}
      <div style={abs({ left: 134, top: 9, width: 147, height: 48, border: '1px solid #222', borderRadius: 12, fontFamily: SERIF, fontSize: 16.5, lineHeight: '21px', textAlign: 'center', paddingTop: 3, color: '#111' })}>
        Reconstruction &amp;<br />Generative Maps
      </div>
      <div style={abs({ left: 577, top: 9, width: 91, height: 48, border: '1px solid #222', borderRadius: 12, fontFamily: SERIF, fontSize: 16.5, lineHeight: '21px', textAlign: 'center', paddingTop: 3, color: '#111' })}>
        Neuronal<br />Selectivity
      </div>

      {/* K labels */}
      <div style={abs({ left: 313, top: 55, fontFamily: SERIF, fontSize: 26, lineHeight: '26px', color: '#111' })}><i>K</i> ≤ 2</div>
      <div style={abs({ left: 312, top: 537, fontFamily: SERIF, fontSize: 26, lineHeight: '26px', color: '#111' })}><i>K</i> &gt; 2</div>

      {/* row labels */}
      {letter('a', 19, 66)}
      {letter('b', 16, 301)}
      {letter('c', 17, 563)}
      {letter('d', 18, 789)}
      {letter('e', 19, 1016)}
      {letter('f', 21, 1244, false)}
      <Rot cx={25} cy={178} size={17} font={SERIF} text="PCA" />
      <Rot cx={25} cy={410} size={17} font={SERIF} text="ICA" />
      <Rot cx={25} cy={675} size={17} font={SERIF} text="NMF" />
      <Rot cx={25} cy={902} size={17} font={SERIF} text="NSM" />
      <Rot cx={26} cy={1130} size={14} font={SERIF} text="KSM - Sparsity Constraint" />
      <Rot cx={30} cy={1365} size={12.5} font={SANS} text="KSM - Manifold Constraint" />

      {SPECS.map((s) => <ChartCanvas key={s.key} spec={s} />)}
    </div>
  );
}
